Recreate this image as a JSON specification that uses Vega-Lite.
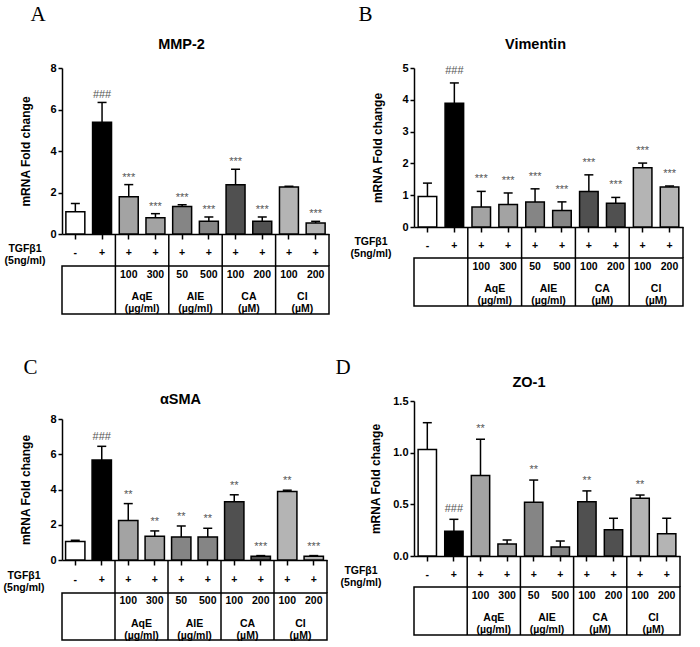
{
  "$schema": "https://vega.github.io/schema/vega-lite/v6.json",
  "padding": {"left": 3, "top": 3, "right": 0, "bottom": 0},
  "config": {
    "font": "Liberation Sans",
    "view": {"stroke": null},
    "axis": {"domainColor": "black", "domainWidth": 1.5, "tickColor": "black", "tickWidth": 1.5, "labelColor": "black", "labelFont": "Liberation Sans", "labelFontWeight": "bold", "labelFontSize": 11, "labelOverlap": false, "titleFont": "Liberation Sans", "titleFontWeight": "bold", "titleFontSize": 12, "titleColor": "black", "grid": false},
    "title": {"font": "Liberation Sans", "fontSize": 14.5, "fontWeight": "bold", "color": "black"},
    "text": {"font": "Liberation Sans", "fontWeight": "bold", "fontSize": 10.5, "color": "black"}
  },
  "datasets": {
    "design": [
      {"cond": "Control", "tgf": "-", "dose": "", "label": ""},
      {"cond": "TGFβ1", "tgf": "+", "dose": "", "label": ""},
      {"cond": "AqE 100", "tgf": "+", "dose": "100", "label": "AqE\n(µg/ml)"},
      {"cond": "AqE 300", "tgf": "+", "dose": "300", "label": ""},
      {"cond": "AIE 50", "tgf": "+", "dose": "50", "label": "AIE\n(µg/ml)"},
      {"cond": "AIE 500", "tgf": "+", "dose": "500", "label": ""},
      {"cond": "CA 100", "tgf": "+", "dose": "100", "label": "CA\n(µM)"},
      {"cond": "CA 200", "tgf": "+", "dose": "200", "label": ""},
      {"cond": "CI 100", "tgf": "+", "dose": "100", "label": "CI\n(µM)"},
      {"cond": "CI 200", "tgf": "+", "dose": "200", "label": ""}
    ],
    "mmp2": [
      {"cond": "Control", "mean": 1.07, "upper": 1.47, "sig": ""},
      {"cond": "TGFβ1", "mean": 5.39, "upper": 6.34, "sig": "###"},
      {"cond": "AqE 100", "mean": 1.79, "upper": 2.38, "sig": "***"},
      {"cond": "AqE 300", "mean": 0.78, "upper": 0.98, "sig": "***"},
      {"cond": "AIE 50", "mean": 1.33, "upper": 1.41, "sig": "***"},
      {"cond": "AIE 500", "mean": 0.62, "upper": 0.82, "sig": "***"},
      {"cond": "CA 100", "mean": 2.37, "upper": 3.12, "sig": "***"},
      {"cond": "CA 200", "mean": 0.62, "upper": 0.82, "sig": "***"},
      {"cond": "CI 100", "mean": 2.27, "upper": 2.3, "sig": ""},
      {"cond": "CI 200", "mean": 0.53, "upper": 0.61, "sig": "***"}
    ],
    "vim": [
      {"cond": "Control", "mean": 0.96, "upper": 1.38, "sig": ""},
      {"cond": "TGFβ1", "mean": 3.89, "upper": 4.53, "sig": "###"},
      {"cond": "AqE 100", "mean": 0.63, "upper": 1.12, "sig": "***"},
      {"cond": "AqE 300", "mean": 0.71, "upper": 1.07, "sig": "***"},
      {"cond": "AIE 50", "mean": 0.79, "upper": 1.2, "sig": "***"},
      {"cond": "AIE 500", "mean": 0.52, "upper": 0.79, "sig": "***"},
      {"cond": "CA 100", "mean": 1.12, "upper": 1.64, "sig": "***"},
      {"cond": "CA 200", "mean": 0.75, "upper": 0.93, "sig": "***"},
      {"cond": "CI 100", "mean": 1.86, "upper": 2.01, "sig": "***"},
      {"cond": "CI 200", "mean": 1.26, "upper": 1.29, "sig": "***"}
    ],
    "asma": [
      {"cond": "Control", "mean": 1.05, "upper": 1.12, "sig": ""},
      {"cond": "TGFβ1", "mean": 5.67, "upper": 6.45, "sig": "###"},
      {"cond": "AqE 100", "mean": 2.24, "upper": 3.2, "sig": "**"},
      {"cond": "AqE 300", "mean": 1.35, "upper": 1.65, "sig": "**"},
      {"cond": "AIE 50", "mean": 1.31, "upper": 1.93, "sig": "**"},
      {"cond": "AIE 500", "mean": 1.31, "upper": 1.8, "sig": "**"},
      {"cond": "CA 100", "mean": 3.3, "upper": 3.7, "sig": "**"},
      {"cond": "CA 200", "mean": 0.21, "upper": 0.25, "sig": "***"},
      {"cond": "CI 100", "mean": 3.89, "upper": 3.96, "sig": "**"},
      {"cond": "CI 200", "mean": 0.21, "upper": 0.25, "sig": "***"}
    ],
    "zo1": [
      {"cond": "Control", "mean": 1.03, "upper": 1.29, "sig": ""},
      {"cond": "TGFβ1", "mean": 0.24, "upper": 0.355, "sig": "###"},
      {"cond": "AqE 100", "mean": 0.78, "upper": 1.13, "sig": "**"},
      {"cond": "AqE 300", "mean": 0.116, "upper": 0.155, "sig": ""},
      {"cond": "AIE 50", "mean": 0.52, "upper": 0.735, "sig": "**"},
      {"cond": "AIE 500", "mean": 0.087, "upper": 0.145, "sig": ""},
      {"cond": "CA 100", "mean": 0.525, "upper": 0.63, "sig": "**"},
      {"cond": "CA 200", "mean": 0.255, "upper": 0.365, "sig": ""},
      {"cond": "CI 100", "mean": 0.56, "upper": 0.59, "sig": "**"},
      {"cond": "CI 200", "mean": 0.216, "upper": 0.365, "sig": ""}
    ]
  },
  "spacing": 5,
  "hconcat": [
    {
      "spacing": 40,
      "vconcat": [
        {
          "title": {"text": "A", "anchor": "start", "font": "Liberation Serif", "fontSize": 21, "fontWeight": "normal", "dx": 26, "offset": 12},
          "spacing": 0,
          "bounds": "flush",
          "resolve": {"scale": {"x": "independent"}},
          "vconcat": [
            {
              "width": 267, "height": 166,
              "title": {"text": "MMP-2", "dx": -14, "offset": 10},
              "data": {"name": "mmp2"},
              "encoding": {"x": {"field": "cond", "type": "nominal", "scale": {"domain": ["Control", "TGFβ1", "AqE 100", "AqE 300", "AIE 50", "AIE 500", "CA 100", "CA 200", "CI 100", "CI 200"], "paddingInner": 0.29}, "axis": {"title": null, "labels": false, "tickSize": 5}}},
              "layer": [
                {"mark": {"type": "bar", "stroke": "black", "strokeWidth": 1.5}, "encoding": {"y": {"field": "mean", "type": "quantitative", "scale": {"domain": [0, 8], "nice": false}, "axis": {"values": [0, 2, 4, 6, 8], "labelOverlap": false, "title": "mRNA Fold change", "titlePadding": 17, "tickSize": 4}}, "fill": {"field": "cond", "type": "nominal", "scale": {"domain": ["Control", "TGFβ1", "AqE 100", "AqE 300", "AIE 50", "AIE 500", "CA 100", "CA 200", "CI 100", "CI 200"], "range": ["#ffffff", "#000000", "#a3a3a3", "#a3a3a3", "#858585", "#858585", "#505050", "#505050", "#b4b4b4", "#b4b4b4"]}, "legend": null}}},
                {"mark": {"type": "rule", "strokeWidth": 1.5, "color": "black"}, "encoding": {"y": {"field": "mean", "type": "quantitative", "axis": {"values": [0, 2, 4, 6, 8], "labelOverlap": false, "title": "mRNA Fold change", "titlePadding": 17, "tickSize": 4}}, "y2": {"field": "upper"}}},
                {"mark": {"type": "tick", "thickness": 1.5, "size": 9, "color": "black", "opacity": 1}, "encoding": {"y": {"field": "upper", "type": "quantitative", "axis": {"values": [0, 2, 4, 6, 8], "labelOverlap": false, "title": "mRNA Fold change", "titlePadding": 17, "tickSize": 4}}}},
                {"mark": {"type": "text", "dy": -7, "fontSize": 11, "fontWeight": "normal", "color": "#555555"}, "encoding": {"y": {"field": "upper", "type": "quantitative", "axis": {"values": [0, 2, 4, 6, 8], "labelOverlap": false, "title": "mRNA Fold change", "titlePadding": 17, "tickSize": 4}}, "text": {"field": "sig"}}}
              ]
            },
            {
              "width": 267, "height": 32,
              "data": {"name": "design"},
              "encoding": {"x": {"field": "cond", "type": "nominal", "scale": {"domain": ["Control", "TGFβ1", "AqE 100", "AqE 300", "AIE 50", "AIE 500", "CA 100", "CA 200", "CI 100", "CI 200"], "paddingInner": 0, "paddingOuter": 0}, "axis": null}},
              "layer": [
                {"mark": {"type": "text", "dy": 3}, "encoding": {"text": {"field": "tgf"}}},
                {"transform": [{"filter": "datum.label != ''"}], "mark": {"type": "rule", "strokeWidth": 1.5, "color": "black"}, "encoding": {"x": {"field": "cond", "type": "nominal", "bandPosition": 0}}},
                {"transform": [{"filter": "datum.cond == 'CI 200'"}], "mark": {"type": "rule", "strokeWidth": 1.5, "color": "black"}, "encoding": {"x": {"field": "cond", "type": "nominal", "bandPosition": 1}}},
                {"transform": [{"filter": "datum.cond == 'Control'"}], "mark": {"type": "text", "dx": -37, "dy": -1, "lineBreak": "\n", "lineHeight": 12}, "encoding": {"x": {"field": "cond", "type": "nominal", "bandPosition": 0}, "text": {"value": "TGFβ1\n(5ng/ml)"}}}
              ]
            },
            {
              "width": 267, "height": 48,
              "view": {"stroke": "black", "strokeWidth": 1.5},
              "data": {"name": "design"},
              "encoding": {"x": {"field": "cond", "type": "nominal", "scale": {"domain": ["Control", "TGFβ1", "AqE 100", "AqE 300", "AIE 50", "AIE 500", "CA 100", "CA 200", "CI 100", "CI 200"], "paddingInner": 0, "paddingOuter": 0}, "axis": null}},
              "layer": [
                {"mark": {"type": "text", "dy": -15}, "encoding": {"text": {"field": "dose"}}},
                {"transform": [{"filter": "datum.label != ''"}], "mark": {"type": "text", "dy": 7, "lineBreak": "\n", "lineHeight": 12}, "encoding": {"x": {"field": "cond", "type": "nominal", "bandPosition": 1}, "text": {"field": "label"}}},
                {"transform": [{"filter": "datum.label != ''"}], "mark": {"type": "rule", "strokeWidth": 1.5, "color": "black"}, "encoding": {"x": {"field": "cond", "type": "nominal", "bandPosition": 0}}}
              ]
            }
          ]
        },
        {
          "title": {"text": "C", "anchor": "start", "font": "Liberation Serif", "fontSize": 21, "fontWeight": "normal", "dx": 20, "offset": 14},
          "spacing": 0,
          "bounds": "flush",
          "resolve": {"scale": {"x": "independent"}},
          "vconcat": [
            {
              "width": 265, "height": 141,
              "title": {"text": "αSMA", "dx": -14, "offset": 6},
              "data": {"name": "asma"},
              "encoding": {"x": {"field": "cond", "type": "nominal", "scale": {"domain": ["Control", "TGFβ1", "AqE 100", "AqE 300", "AIE 50", "AIE 500", "CA 100", "CA 200", "CI 100", "CI 200"], "paddingInner": 0.27}, "axis": {"title": null, "labels": false, "tickSize": 5}}},
              "layer": [
                {"mark": {"type": "bar", "stroke": "black", "strokeWidth": 1.5}, "encoding": {"y": {"field": "mean", "type": "quantitative", "scale": {"domain": [0, 8], "nice": false}, "axis": {"values": [0, 2, 4, 6, 8], "labelOverlap": false, "title": "mRNA Fold change", "titlePadding": 17, "tickSize": 4}}, "fill": {"field": "cond", "type": "nominal", "scale": {"domain": ["Control", "TGFβ1", "AqE 100", "AqE 300", "AIE 50", "AIE 500", "CA 100", "CA 200", "CI 100", "CI 200"], "range": ["#ffffff", "#000000", "#a3a3a3", "#a3a3a3", "#858585", "#858585", "#505050", "#505050", "#b4b4b4", "#b4b4b4"]}, "legend": null}}},
                {"mark": {"type": "rule", "strokeWidth": 1.5, "color": "black"}, "encoding": {"y": {"field": "mean", "type": "quantitative", "axis": {"values": [0, 2, 4, 6, 8], "labelOverlap": false, "title": "mRNA Fold change", "titlePadding": 17, "tickSize": 4}}, "y2": {"field": "upper"}}},
                {"mark": {"type": "tick", "thickness": 1.5, "size": 9, "color": "black", "opacity": 1}, "encoding": {"y": {"field": "upper", "type": "quantitative", "axis": {"values": [0, 2, 4, 6, 8], "labelOverlap": false, "title": "mRNA Fold change", "titlePadding": 17, "tickSize": 4}}}},
                {"mark": {"type": "text", "dy": -9, "fontSize": 11, "fontWeight": "normal", "color": "#555555"}, "encoding": {"y": {"field": "upper", "type": "quantitative", "axis": {"values": [0, 2, 4, 6, 8], "labelOverlap": false, "title": "mRNA Fold change", "titlePadding": 17, "tickSize": 4}}, "text": {"field": "sig"}}}
              ]
            },
            {
              "width": 265, "height": 33,
              "data": {"name": "design"},
              "encoding": {"x": {"field": "cond", "type": "nominal", "scale": {"domain": ["Control", "TGFβ1", "AqE 100", "AqE 300", "AIE 50", "AIE 500", "CA 100", "CA 200", "CI 100", "CI 200"], "paddingInner": 0, "paddingOuter": 0}, "axis": null}},
              "layer": [
                {"mark": {"type": "text", "dy": 3}, "encoding": {"text": {"field": "tgf"}}},
                {"transform": [{"filter": "datum.label != ''"}], "mark": {"type": "rule", "strokeWidth": 1.5, "color": "black"}, "encoding": {"x": {"field": "cond", "type": "nominal", "bandPosition": 0}}},
                {"transform": [{"filter": "datum.cond == 'CI 200'"}], "mark": {"type": "rule", "strokeWidth": 1.5, "color": "black"}, "encoding": {"x": {"field": "cond", "type": "nominal", "bandPosition": 1}}},
                {"transform": [{"filter": "datum.cond == 'Control'"}], "mark": {"type": "text", "dx": -38, "dy": -1, "lineBreak": "\n", "lineHeight": 12}, "encoding": {"x": {"field": "cond", "type": "nominal", "bandPosition": 0}, "text": {"value": "TGFβ1\n(5ng/ml)"}}}
              ]
            },
            {
              "width": 265, "height": 47,
              "view": {"stroke": "black", "strokeWidth": 1.5},
              "data": {"name": "design"},
              "encoding": {"x": {"field": "cond", "type": "nominal", "scale": {"domain": ["Control", "TGFβ1", "AqE 100", "AqE 300", "AIE 50", "AIE 500", "CA 100", "CA 200", "CI 100", "CI 200"], "paddingInner": 0, "paddingOuter": 0}, "axis": null}},
              "layer": [
                {"mark": {"type": "text", "dy": -16}, "encoding": {"text": {"field": "dose"}}},
                {"transform": [{"filter": "datum.label != ''"}], "mark": {"type": "text", "dy": 7, "lineBreak": "\n", "lineHeight": 12}, "encoding": {"x": {"field": "cond", "type": "nominal", "bandPosition": 1}, "text": {"field": "label"}}},
                {"transform": [{"filter": "datum.label != ''"}], "mark": {"type": "rule", "strokeWidth": 1.5, "color": "black"}, "encoding": {"x": {"field": "cond", "type": "nominal", "bandPosition": 0}}}
              ]
            }
          ]
        }
      ]
    },
    {
      "spacing": 48,
      "align": "none",
      "vconcat": [
        {
          "title": {"text": "B", "anchor": "start", "font": "Liberation Serif", "fontSize": 21, "fontWeight": "normal", "dx": 8, "offset": 12},
          "spacing": 0,
          "bounds": "flush",
          "resolve": {"scale": {"x": "independent"}},
          "vconcat": [
            {
              "width": 269, "height": 159,
              "title": {"text": "Vimentin", "dx": -13, "offset": 10},
              "data": {"name": "vim"},
              "encoding": {"x": {"field": "cond", "type": "nominal", "scale": {"domain": ["Control", "TGFβ1", "AqE 100", "AqE 300", "AIE 50", "AIE 500", "CA 100", "CA 200", "CI 100", "CI 200"], "paddingInner": 0.31}, "axis": {"title": null, "labels": false, "tickSize": 5}}},
              "layer": [
                {"mark": {"type": "bar", "stroke": "black", "strokeWidth": 1.5}, "encoding": {"y": {"field": "mean", "type": "quantitative", "scale": {"domain": [0, 5], "nice": false}, "axis": {"values": [0, 1, 2, 3, 4, 5], "labelOverlap": false, "title": "mRNA Fold change", "titlePadding": 17, "tickSize": 4}}, "fill": {"field": "cond", "type": "nominal", "scale": {"domain": ["Control", "TGFβ1", "AqE 100", "AqE 300", "AIE 50", "AIE 500", "CA 100", "CA 200", "CI 100", "CI 200"], "range": ["#ffffff", "#000000", "#a3a3a3", "#a3a3a3", "#858585", "#858585", "#505050", "#505050", "#b4b4b4", "#b4b4b4"]}, "legend": null}}},
                {"mark": {"type": "rule", "strokeWidth": 1.5, "color": "black"}, "encoding": {"y": {"field": "mean", "type": "quantitative", "axis": {"values": [0, 1, 2, 3, 4, 5], "labelOverlap": false, "title": "mRNA Fold change", "titlePadding": 17, "tickSize": 4}}, "y2": {"field": "upper"}}},
                {"mark": {"type": "tick", "thickness": 1.5, "size": 9, "color": "black", "opacity": 1}, "encoding": {"y": {"field": "upper", "type": "quantitative", "axis": {"values": [0, 1, 2, 3, 4, 5], "labelOverlap": false, "title": "mRNA Fold change", "titlePadding": 17, "tickSize": 4}}}},
                {"mark": {"type": "text", "dy": -12, "fontSize": 11, "fontWeight": "normal", "color": "#555555"}, "encoding": {"y": {"field": "upper", "type": "quantitative", "axis": {"values": [0, 1, 2, 3, 4, 5], "labelOverlap": false, "title": "mRNA Fold change", "titlePadding": 17, "tickSize": 4}}, "text": {"field": "sig"}}}
              ]
            },
            {
              "width": 269, "height": 31,
              "data": {"name": "design"},
              "encoding": {"x": {"field": "cond", "type": "nominal", "scale": {"domain": ["Control", "TGFβ1", "AqE 100", "AqE 300", "AIE 50", "AIE 500", "CA 100", "CA 200", "CI 100", "CI 200"], "paddingInner": 0, "paddingOuter": 0}, "axis": null}},
              "layer": [
                {"mark": {"type": "text", "dy": 3}, "encoding": {"text": {"field": "tgf"}}},
                {"transform": [{"filter": "datum.label != ''"}], "mark": {"type": "rule", "strokeWidth": 1.5, "color": "black"}, "encoding": {"x": {"field": "cond", "type": "nominal", "bandPosition": 0}}},
                {"transform": [{"filter": "datum.cond == 'CI 200'"}], "mark": {"type": "rule", "strokeWidth": 1.5, "color": "black"}, "encoding": {"x": {"field": "cond", "type": "nominal", "bandPosition": 1}}},
                {"transform": [{"filter": "datum.cond == 'Control'"}], "mark": {"type": "text", "dx": -43, "dy": -1, "lineBreak": "\n", "lineHeight": 12}, "encoding": {"x": {"field": "cond", "type": "nominal", "bandPosition": 0}, "text": {"value": "TGFβ1\n(5ng/ml)"}}}
              ]
            },
            {
              "width": 269, "height": 48,
              "view": {"stroke": "black", "strokeWidth": 1.5},
              "data": {"name": "design"},
              "encoding": {"x": {"field": "cond", "type": "nominal", "scale": {"domain": ["Control", "TGFβ1", "AqE 100", "AqE 300", "AIE 50", "AIE 500", "CA 100", "CA 200", "CI 100", "CI 200"], "paddingInner": 0, "paddingOuter": 0}, "axis": null}},
              "layer": [
                {"mark": {"type": "text", "dy": -15}, "encoding": {"text": {"field": "dose"}}},
                {"transform": [{"filter": "datum.label != ''"}], "mark": {"type": "text", "dy": 7, "lineBreak": "\n", "lineHeight": 12}, "encoding": {"x": {"field": "cond", "type": "nominal", "bandPosition": 1}, "text": {"field": "label"}}},
                {"transform": [{"filter": "datum.label != ''"}], "mark": {"type": "rule", "strokeWidth": 1.5, "color": "black"}, "encoding": {"x": {"field": "cond", "type": "nominal", "bandPosition": 0}}}
              ]
            }
          ]
        },
        {
          "title": {"text": "D", "anchor": "start", "font": "Liberation Serif", "fontSize": 21, "fontWeight": "normal", "dx": -5, "offset": -3},
          "spacing": 0,
          "bounds": "flush",
          "resolve": {"scale": {"x": "independent"}},
          "vconcat": [
            {
              "width": 266, "height": 155,
              "title": {"text": "ZO-1", "dx": -18, "offset": 5},
              "data": {"name": "zo1"},
              "encoding": {"x": {"field": "cond", "type": "nominal", "scale": {"domain": ["Control", "TGFβ1", "AqE 100", "AqE 300", "AIE 50", "AIE 500", "CA 100", "CA 200", "CI 100", "CI 200"], "paddingInner": 0.31}, "axis": {"title": null, "labels": false, "tickSize": 5}}},
              "layer": [
                {"mark": {"type": "bar", "stroke": "black", "strokeWidth": 1.5}, "encoding": {"y": {"field": "mean", "type": "quantitative", "scale": {"domain": [0, 1.5], "nice": false}, "axis": {"values": [0, 0.5, 1, 1.5], "format": ".1f", "labelOverlap": false, "title": "mRNA Fold change", "titlePadding": 10, "tickSize": 4}}, "fill": {"field": "cond", "type": "nominal", "scale": {"domain": ["Control", "TGFβ1", "AqE 100", "AqE 300", "AIE 50", "AIE 500", "CA 100", "CA 200", "CI 100", "CI 200"], "range": ["#ffffff", "#000000", "#a3a3a3", "#a3a3a3", "#858585", "#858585", "#505050", "#505050", "#b4b4b4", "#b4b4b4"]}, "legend": null}}},
                {"mark": {"type": "rule", "strokeWidth": 1.5, "color": "black"}, "encoding": {"y": {"field": "mean", "type": "quantitative", "axis": {"values": [0, 0.5, 1, 1.5], "format": ".1f", "labelOverlap": false, "title": "mRNA Fold change", "titlePadding": 10, "tickSize": 4}}, "y2": {"field": "upper"}}},
                {"mark": {"type": "tick", "thickness": 1.5, "size": 9, "color": "black", "opacity": 1}, "encoding": {"y": {"field": "upper", "type": "quantitative", "axis": {"values": [0, 0.5, 1, 1.5], "format": ".1f", "labelOverlap": false, "title": "mRNA Fold change", "titlePadding": 10, "tickSize": 4}}}},
                {"mark": {"type": "text", "dy": -10, "fontSize": 11, "fontWeight": "normal", "color": "#555555"}, "encoding": {"y": {"field": "upper", "type": "quantitative", "axis": {"values": [0, 0.5, 1, 1.5], "format": ".1f", "labelOverlap": false, "title": "mRNA Fold change", "titlePadding": 10, "tickSize": 4}}, "text": {"field": "sig"}}}
              ]
            },
            {
              "width": 266, "height": 31,
              "data": {"name": "design"},
              "encoding": {"x": {"field": "cond", "type": "nominal", "scale": {"domain": ["Control", "TGFβ1", "AqE 100", "AqE 300", "AIE 50", "AIE 500", "CA 100", "CA 200", "CI 100", "CI 200"], "paddingInner": 0, "paddingOuter": 0}, "axis": null}},
              "layer": [
                {"mark": {"type": "text", "dy": 3}, "encoding": {"text": {"field": "tgf"}}},
                {"transform": [{"filter": "datum.label != ''"}], "mark": {"type": "rule", "strokeWidth": 1.5, "color": "black"}, "encoding": {"x": {"field": "cond", "type": "nominal", "bandPosition": 0}}},
                {"transform": [{"filter": "datum.cond == 'CI 200'"}], "mark": {"type": "rule", "strokeWidth": 1.5, "color": "black"}, "encoding": {"x": {"field": "cond", "type": "nominal", "bandPosition": 1}}},
                {"transform": [{"filter": "datum.cond == 'Control'"}], "mark": {"type": "text", "dx": -53, "dy": -1, "lineBreak": "\n", "lineHeight": 12}, "encoding": {"x": {"field": "cond", "type": "nominal", "bandPosition": 0}, "text": {"value": "TGFβ1\n(5ng/ml)"}}}
              ]
            },
            {
              "width": 266, "height": 48,
              "view": {"stroke": "black", "strokeWidth": 1.5},
              "data": {"name": "design"},
              "encoding": {"x": {"field": "cond", "type": "nominal", "scale": {"domain": ["Control", "TGFβ1", "AqE 100", "AqE 300", "AIE 50", "AIE 500", "CA 100", "CA 200", "CI 100", "CI 200"], "paddingInner": 0, "paddingOuter": 0}, "axis": null}},
              "layer": [
                {"mark": {"type": "text", "dy": -15}, "encoding": {"text": {"field": "dose"}}},
                {"transform": [{"filter": "datum.label != ''"}], "mark": {"type": "text", "dy": 7, "lineBreak": "\n", "lineHeight": 12}, "encoding": {"x": {"field": "cond", "type": "nominal", "bandPosition": 1}, "text": {"field": "label"}}},
                {"transform": [{"filter": "datum.label != ''"}], "mark": {"type": "rule", "strokeWidth": 1.5, "color": "black"}, "encoding": {"x": {"field": "cond", "type": "nominal", "bandPosition": 0}}}
              ]
            }
          ]
        }
      ]
    }
  ]
}
